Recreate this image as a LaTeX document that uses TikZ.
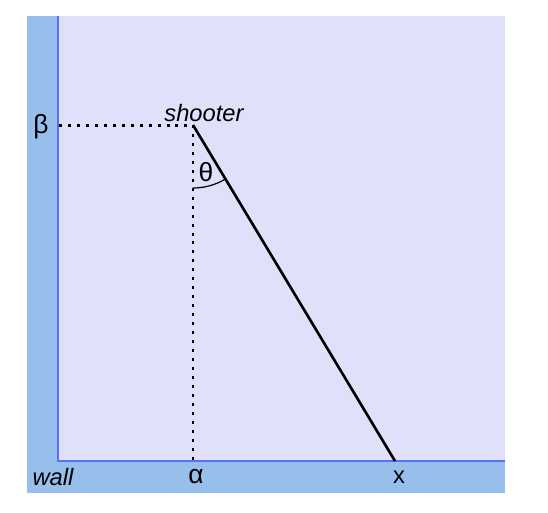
\documentclass[tikz,border=0pt]{standalone}
\usepackage{fontspec}
\setmainfont{Liberation Sans}
\usetikzlibrary{calc}
\definecolor{wallblue}{RGB}{152,191,236}
\definecolor{roomfill}{RGB}{224,224,250}
\definecolor{edgeblue}{RGB}{85,115,238}
\tikzset{
  lbl/.style={font=\fontsize{13.5}{15}\selectfont, text=black, inner sep=1pt},
  grlbl/.style={lbl, font=\fontsize{15}{17}\selectfont},
  itlbl/.style={lbl, font=\fontsize{13.5}{15}\selectfont\itshape},
  dotline/.style={line width=1.7pt, dash pattern=on 1.7pt off 3.4pt},
  shot/.style={line width=1.5pt, black}
}
\begin{document}
\begin{tikzpicture}[x=0.02cm, y=-0.02cm]
  \useasboundingbox (0,0) rectangle (548,512);

  % wall and room
  \fill[wallblue] (27,16) rectangle (57,493);
  \fill[wallblue] (27,461) rectangle (505,493);
  \fill[roomfill] (58,16) rectangle (505,461);
  \draw[edgeblue, line width=1.1pt] (58,16) -- (58,461) -- (505,461);

  % points
  \coordinate (shooter) at (193,125);
  \coordinate (alpha) at (193,461);
  \coordinate (hit) at (395,461);
  \coordinate (betaw) at (59,125);

  % dotted projections
  \draw[dotline] (betaw) -- (shooter);
  \draw[dotline] (shooter) -- (alpha);

  % line of fire
  \draw[shot] (shooter) -- (hit);

  % angle theta
  \draw[line width=0.7pt] ($(shooter)+(0,63)$) arc[start angle=90, end angle=59, radius=63];

  % labels
  \node[itlbl] (shooterlbl) at (204,113) {shooter};
  \node[grlbl] (betalbl) at (41,127) {β};
  \node[grlbl] (thetalbl) at (206,172) {θ};
  \node[itlbl] (walllbl) at (53,477) {wall};
  \node[grlbl] (alphalbl) at (196,477) {α};
  \node[lbl] (xlbl) at (399,477) {x};
\end{tikzpicture}
\end{document}
